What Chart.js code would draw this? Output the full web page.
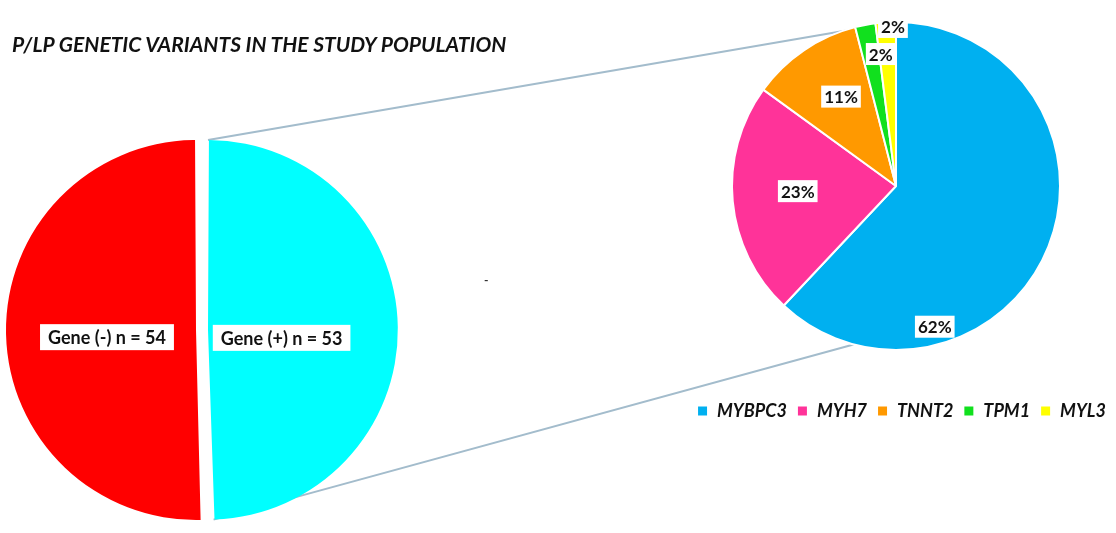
<!DOCTYPE html>
<html>
<head>
<meta charset="utf-8">
<title>P/LP genetic variants</title>
<script src="https://cdn.jsdelivr.net/npm/chart.js@4.4.1/dist/chart.umd.min.js"></script>
<style>
  html, body { margin: 0; padding: 0; background: #fff; }
  #page { position: relative; width: 1116px; height: 533px; overflow: hidden; background: #fff; }
  #title { position: absolute; left: 12px; top: 31px; font: italic bold 21px Lato, sans-serif; color: #111; white-space: nowrap; }
  #dash { position: absolute; left: 484px; top: 272px; font: bold 12px Lato, sans-serif; color: #333; }
  #lines { position: absolute; left: 0; top: 0; }
  #leftBox { position: absolute; left: -8px; top: 130px; width: 420px; height: 400px; }
  #rightBox { position: absolute; left: 676px; top: -20px; width: 440px; height: 450px; }
</style>
</head>
<body>
<div id="page">
  <canvas id="lines" width="1116" height="533"></canvas>
  <div id="title">P/LP GENETIC VARIANTS IN THE STUDY POPULATION</div>
  <div id="dash">-</div>
  <div id="leftBox"><canvas id="leftPie"></canvas></div>
  <div id="rightBox"><canvas id="rightPie"></canvas></div>
</div>
<script>
// Datos: población total según resultado genético
const statusLabels = ['Gene (+)', 'Gene (-)'];
const statusCounts = [53, 54];
const statusColors = ['#00FFFF', '#FF0000'];

// Datos: genes de las variantes P/LP (porcentajes)
const geneLabels = ['MYBPC3', 'MYH7', 'TNNT2', 'TPM1', 'MYL3'];
const genePercents = [62, 23, 11, 2, 2];
const geneColors = ['#00B0F0', '#FF3399', '#FF9900', '#11E01E', '#FFFF00'];

// Ubicación de las etiquetas: fracción del radio y giro en grados
const statusPlace = [{ r: 0.39, shift: 7 }, { r: 0.47, shift: -3.7 }];
const genePlace = [
    { r: 0.89, shift: 53 },
    { r: 0.6, shift: 2.4 },
    { r: 0.64, shift: 2.6 },
    { r: 0.81, shift: 4.2 },
    { r: 0.97, shift: 2.5 }
];

const FONT = 'Lato, sans-serif';

// Geometría dibujada de un sector: Chart.js traslada offset/4
// y agranda el radio offset/4 * (1 - sin(circ))
function arcGeom(arc) {
    const p = arc.getProps(['x', 'y', 'startAngle', 'endAngle', 'outerRadius', 'circumference'], true);
    const off = (arc.options.offset || 0) / 4;
    const fix = 1 - Math.sin(Math.min(Math.PI, p.circumference || 0));
    const mid = (p.startAngle + p.endAngle) / 2;
    return {
        x: p.x + Math.cos(mid) * off,
        y: p.y + Math.sin(mid) * off,
        r: p.outerRadius + off * fix,
        start: p.startAngle,
        end: p.endAngle,
        mid: mid
    };
}

// Etiquetas con fondo blanco
const boxLabels = {
    id: 'boxLabels',
    afterDatasetsDraw(chart, args, opts) {
        const ctx = chart.ctx;
        const meta = chart.getDatasetMeta(0);
        const values = chart.data.datasets[0].data;
        const place = opts.mode === 'count' ? statusPlace : genePlace;
        ctx.save();
        ctx.font = 'bold ' + opts.size + 'px ' + FONT;
        ctx.textAlign = 'center';
        ctx.textBaseline = 'middle';
        meta.data.forEach((arc, i) => {
            const g = arcGeom(arc);
            const a = g.mid + place[i].shift * Math.PI / 180;
            const x = g.x + Math.cos(a) * g.r * place[i].r;
            const y = g.y + Math.sin(a) * g.r * place[i].r;
            const text = opts.mode === 'count'
                ? chart.data.labels[i] + ' n = ' + values[i]
                : values[i] + '%';
            const w = ctx.measureText(text).width + opts.padX * 2;
            const h = opts.boxH;
            ctx.fillStyle = '#fff';
            ctx.fillRect(x - w / 2, y - h / 2, w, h);
            ctx.fillStyle = '#111';
            ctx.fillText(text, x, y + 1);
        });
        ctx.restore();
    }
};

// Ambas mitades separadas: cada una se desplaza 6 px
const leftPie = new Chart(document.getElementById('leftPie'), {
    type: 'pie',
    data: {
        labels: statusLabels,
        datasets: [{
            data: statusCounts,
            backgroundColor: statusColors,
            borderWidth: 0,
            offset: 24
        }]
    },
    options: {
        responsive: true,
        maintainAspectRatio: false,
        animation: false,
        radius: 184,
        rotation: 0,
        plugins: {
            legend: { display: false },
            tooltip: { enabled: false },
            boxLabels: { mode: 'count', size: 18, padX: 8, boxH: 26 }
        }
    },
    plugins: [boxLabels]
});

const rightPie = new Chart(document.getElementById('rightPie'), {
    type: 'pie',
    data: {
        labels: geneLabels,
        datasets: [{
            data: genePercents,
            backgroundColor: geneColors,
            borderColor: '#fff',
            borderWidth: 2
        }]
    },
    options: {
        responsive: true,
        maintainAspectRatio: false,
        animation: false,
        radius: 164,
        plugins: {
            tooltip: { enabled: false },
            legend: {
                position: 'bottom',
                align: 'end',
                labels: {
                    boxWidth: 11,
                    boxHeight: 11,
                    padding: 10,
                    color: '#111',
                    font: { family: FONT, size: 18, style: 'italic', weight: 'bold' }
                }
            },
            boxLabels: { mode: 'percent', size: 17, padX: 3, boxH: 22 }
        }
    },
    plugins: [boxLabels]
});

// Líneas de conexión entre ambos gráficos
function drawLinks() {
    const lb = document.getElementById('leftBox');
    const rb = document.getElementById('rightBox');
    const lx = lb.offsetLeft, ly = lb.offsetTop;
    const rx = rb.offsetLeft, ry = rb.offsetTop;
    const cyan = arcGeom(leftPie.getDatasetMeta(0).data[0]);
    const big = arcGeom(rightPie.getDatasetMeta(0).data[0]);
    const lowAngle = (195 - 90) * Math.PI / 180;

    const ctx = document.getElementById('lines').getContext('2d');
    ctx.clearRect(0, 0, 1116, 533);
    ctx.strokeStyle = '#A3BCCC';
    ctx.lineWidth = 2;
    ctx.beginPath();
    ctx.moveTo(lx + cyan.x + Math.cos(cyan.start) * cyan.r, ly + cyan.y + Math.sin(cyan.start) * cyan.r);
    ctx.lineTo(rx + big.x + Math.cos(big.start) * big.r, ry + big.y + Math.sin(big.start) * big.r);
    ctx.moveTo(lx + cyan.x + Math.cos(cyan.end) * cyan.r, ly + cyan.y + Math.sin(cyan.end) * cyan.r);
    ctx.lineTo(rx + big.x + Math.cos(lowAngle) * big.r, ry + big.y + Math.sin(lowAngle) * big.r);
    ctx.stroke();
}
drawLinks();
</script>
</body>
</html>
